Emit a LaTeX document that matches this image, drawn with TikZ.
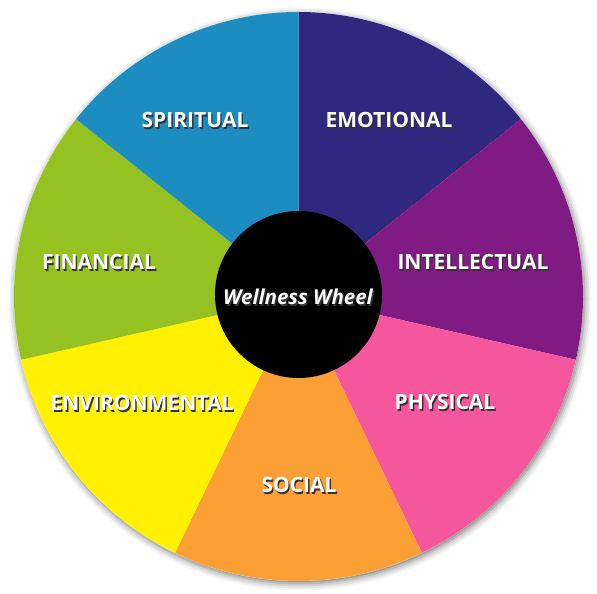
\documentclass[tikz,border=0pt]{standalone}
\usepackage{fontspec}
\setmainfont{Open Sans}
\usetikzlibrary{shadows.blur}
\definecolor{cspi}{HTML}{1B8DC0}
\definecolor{cemo}{HTML}{30287F}
\definecolor{cint}{HTML}{801B84}
\definecolor{cphy}{HTML}{F6579C}
\definecolor{csoc}{HTML}{FCA035}
\definecolor{cenv}{HTML}{FFF100}
\definecolor{cfin}{HTML}{95C221}
\definecolor{tshadow}{HTML}{333333}
\newcommand{\shtext}[1]{\makebox[0pt][l]{\hspace{1.4pt}\raisebox{-1.7pt}{\textcolor{tshadow}{#1}}}#1}
\tikzset{
  lbl/.style={font=\bfseries\fontsize{21}{21}\selectfont, text=white, inner sep=0pt},
}
\begin{document}
\begin{tikzpicture}[x=1pt,y=1pt]
\useasboundingbox (0,0) rectangle (597,594);
\coordinate (c) at (298.5,297.5);
\def\R{284.5}
\fill[white, blur shadow={shadow xshift=1.5pt, shadow yshift=-2.5pt, shadow blur radius=7pt, shadow opacity=55}] (c) circle (\R);
\fill[cemo] (c) -- ++(90:\R) arc (90:38.571:\R) -- cycle;
\fill[cint] (c) -- ++(38.571:\R) arc (38.571:-12.857:\R) -- cycle;
\fill[cphy] (c) -- ++(-12.857:\R) arc (-12.857:-64.286:\R) -- cycle;
\fill[csoc] (c) -- ++(-64.286:\R) arc (-64.286:-115.714:\R) -- cycle;
\fill[cenv] (c) -- ++(-115.714:\R) arc (-115.714:-167.143:\R) -- cycle;
\fill[cfin] (c) -- ++(-167.143:\R) arc (-167.143:-218.571:\R) -- cycle;
\fill[cspi] (c) -- ++(141.429:\R) arc (141.429:90:\R) -- cycle;
\fill[black] (298.5,299.5) circle (83.5);
\node[lbl, font=\bfseries\itshape\fontsize{20.5}{20.5}\selectfont] (ww) at (298,296) {\shtext{Wellness Wheel}};
\node[lbl] (spi) at (195,473) {\shtext{SPIRITUAL}};
\node[lbl] (emo) at (389,473) {\shtext{EMOTIONAL}};
\node[lbl] (fin) at (99,331) {\shtext{FINANCIAL}};
\node[lbl] (int) at (473,331) {\shtext{INTELLECTUAL}};
\node[lbl] (env) at (142,190) {\shtext{ENVIRONMENTAL}};
\node[lbl] (phy) at (445,191) {\shtext{PHYSICAL}};
\node[lbl] (soc) at (299,108) {\shtext{SOCIAL}};
\end{tikzpicture}
\end{document}
